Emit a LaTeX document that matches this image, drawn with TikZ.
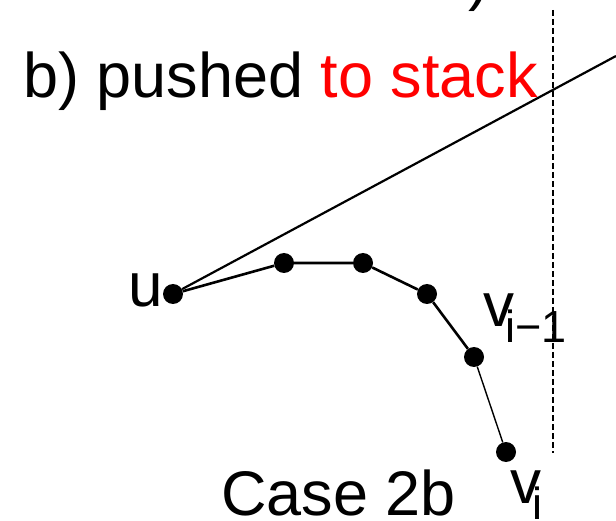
\documentclass[tikz,border=0pt]{standalone}
\usepackage{fontspec}
\setmainfont{Liberation Sans}
\usepackage{tikz}
\usetikzlibrary{positioning}
\definecolor{Push}{HTML}{FF0000}

\newcommand{\bigtxt}{\fontsize{63}{63}\selectfont}
\newcommand{\lbltxt}{\fontsize{62}{62}\selectfont}
\newcommand{\subidx}[1]{\kern-9pt\raisebox{-16pt}{\fontsize{45}{45}\selectfont #1}}

\begin{document}
\begin{tikzpicture}[x=1pt,y=-1pt,
    dot/.style={circle,fill=black,minimum size=20pt,inner sep=0pt},
    lbl/.style={anchor=base west,inner sep=0pt,font=\bigtxt}]
    \useasboundingbox (0,0) rectangle (616,521);
    % chain points
    \foreach \n/\x/\y in {u/173/294, s1/284/263, s2/363/263, s3/427/294,
      vim/474/357, vi/506/452}
      \node[dot] (\n) at (\x,\y) {};
    \coordinate (tip) at (616,56);
    \coordinate (ltop) at (553,10);
    \coordinate (lbot) at (553,453);
    % edges
    \draw[line width=2.2pt] (u) -- (tip);
    \draw[line width=2.6pt] (u) -- (s1) -- (s2) -- (s3) -- (vim);
    \draw[line width=1.4pt] (vim) -- (vi);
    \draw[line width=2.6pt,dash pattern=on 6pt off 3pt] (ltop) -- (lbot);
    % labels
    \node[lbl] (title) at (23,98) {b) pushed \textcolor{Push}{to stack}};
    \node[lbl] (prev) at (468,-1) {)};
    \node[lbl,font=\lbltxt] (ulab) at (128,307) {u};
    \node[lbl,font=\lbltxt] (vimlab) at (483,327) {v\subidx{i−1}};
    \node[lbl,font=\lbltxt] (vilab) at (510,503) {v\subidx{i}};
    \node[lbl] (case) at (221,515) {Case 2b};
\end{tikzpicture}
\end{document}
